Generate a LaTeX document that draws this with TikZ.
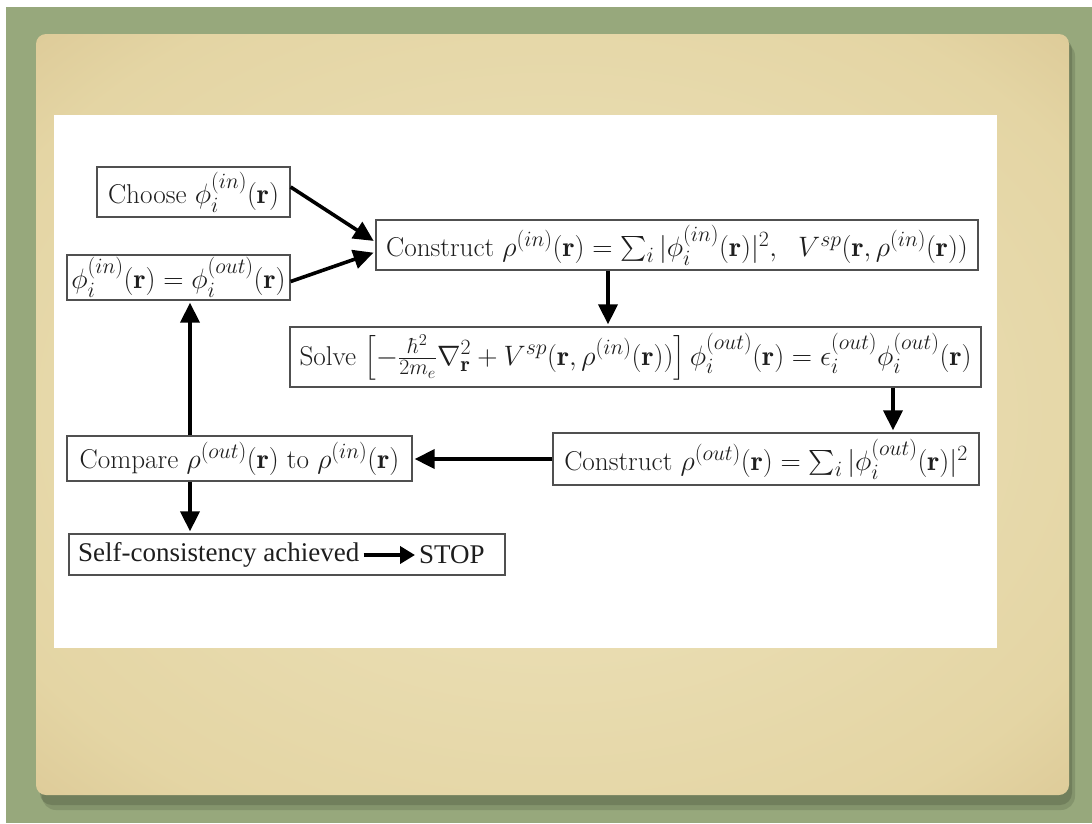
\RequirePackage{fix-cm}
\documentclass[tikz,border=0pt]{standalone}
\usepackage{exscale}
\usepackage{fontspec}
\newfontfamily\timesf{Liberation Serif}
\usetikzlibrary{arrows.meta,calc}
\DeclareMathSizes{27.2}{28.1}{21.8}{16.5}
\definecolor{greenbg}{HTML}{97A87C}
\definecolor{parchin}{HTML}{EEE4BE}
\definecolor{parchmid}{HTML}{E4D5A4}
\definecolor{parchout}{HTML}{CDB27C}
\definecolor{shadowc}{HTML}{4F5A40}
\definecolor{boxgray}{HTML}{505050}
\definecolor{inkc}{HTML}{1E1E1E}
\pgfdeclareradialshading{parch}{\pgfpointorigin}{color(0bp)=(parchin); color(30bp)=(parchmid); color(50bp)=(parchout); color(75bp)=(parchout)}
\begin{document}
\begin{tikzpicture}[x=1pt,y=-1pt,
  box/.style={draw=boxgray, line width=1.3pt, fill=white, inner sep=0pt, text=inkc,
    font=\fontsize{27.2}{32}\selectfont},
  arr/.style={line width=3.6pt, -{Triangle[length=20pt,width=19pt]}, shorten >=2pt},
  smallarr/.style={line width=4pt, -{Triangle[length=15pt,width=17pt]}, shorten >=4pt, shorten <=4pt},
  tnr/.style={inner sep=0pt, text=inkc, font=\timesf\fontsize{27}{32}\selectfont}]
% background
\useasboundingbox (0,0) rectangle (1092,823);
\fill[white] (0,0) rectangle (1092,823);
\fill[greenbg] (6,7) rectangle (1092,823);
\fill[shadowc, opacity=0.25, rounded corners=14pt] (42,42) rectangle (1075,810);
\fill[shadowc, opacity=0.35, rounded corners=12pt] (40,38) rectangle (1072,805);
\shade[shading=parch, rounded corners=10pt] (36,34) rectangle (1069,795);
\fill[white] (54,115) rectangle (997,648);
% boxes
\node[box, minimum width=193pt, minimum height=50pt] (choose) at (193.5,192)
  {Choose $\phi_i^{(in)}(\mathbf{r})$};
\node[box, minimum width=223pt, minimum height=45pt] (phiin) at (178.5,277.5)
  {$\phi_i^{(in)}(\mathbf{r})=\phi_i^{(out)}(\mathbf{r})$};
\node[box, minimum width=602pt, minimum height=50pt] (cin) at (677,245)
  {Construct $\rho^{(in)}(\mathbf{r})=\sum_i|\phi_i^{(in)}(\mathbf{r})|^2,\ \ V^{sp}(\mathbf{r},\rho^{(in)}(\mathbf{r}))$};
\node[box, minimum width=691pt, minimum height=60pt] (solve) at (635.5,357)
  {Solve $\left[-\frac{\hbar^2}{2m_e}\nabla^2_{\mathbf{r}}+V^{sp}(\mathbf{r},\rho^{(in)}(\mathbf{r}))\right]\phi_i^{(out)}(\mathbf{r})=\epsilon_i^{(out)}\phi_i^{(out)}(\mathbf{r})$};
\node[box, minimum width=426pt, minimum height=52pt] (cout) at (766,459)
  {Construct $\rho^{(out)}(\mathbf{r})=\sum_i|\phi_i^{(out)}(\mathbf{r})|^2$};
\node[box, minimum width=345pt, minimum height=45pt] (compare) at (239.5,458.5)
  {Compare $\rho^{(out)}(\mathbf{r})$ to $\rho^{(in)}(\mathbf{r})$};
\node[box, minimum width=436pt, minimum height=41pt] (self) at (287,554.5) {};
\node[tnr, anchor=west] (sc) at (78,555) {Self-consistency achieved};
\node[tnr, anchor=west] (stop) at (419,555) {STOP};
% connectors
\draw[arr] ([yshift=5pt]choose.east) -- ([yshift=3pt]cin.west);
\draw[arr] ([yshift=-4pt]phiin.east) -- ([yshift=-7pt]cin.west);
\coordinate (a1) at ($(cin.south)+(-69,0)$);
\draw[arr] (a1) -- (a1 |- solve.north);
\coordinate (a2) at ($(solve.south)+(257.5,0)$);
\draw[arr] (a2) -- (a2 |- cout.north);
\draw[arr] (cout.west) -- (cout.west -| compare.east);
\coordinate (a3) at ($(compare.north)+(-49.5,0)$);
\draw[arr] (a3) -- (a3 |- phiin.south);
\coordinate (a4) at ($(compare.south)+(-49.5,0)$);
\draw[arr] (a4) -- (a4 |- self.north);
\draw[smallarr] (sc.east) -- (stop.west);
\end{tikzpicture}
\end{document}
